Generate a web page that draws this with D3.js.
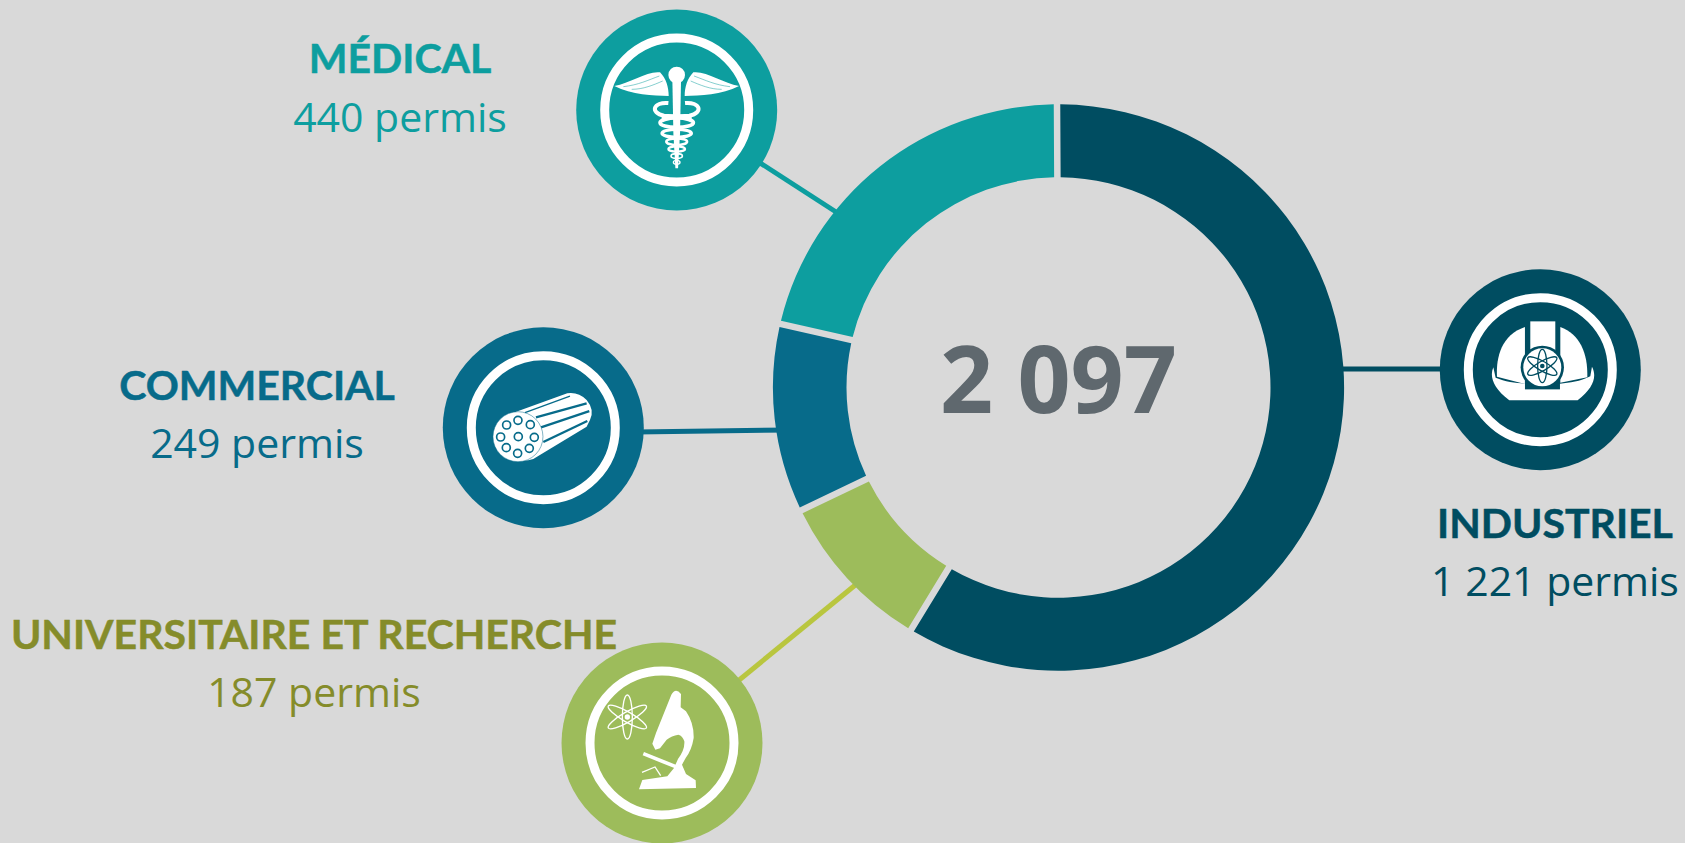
<!DOCTYPE html>
<html>
<head>
<meta charset="utf-8">
<script src="https://d3js.org/d3.v7.min.js"></script>
<style>
    html, body { margin: 0; padding: 0; background: #d9d9d9; }
    svg { display: block; }
    text { font-family: Lato, "Open Sans", sans-serif; }
</style>
</head>
<body>
<div id="chart"></div>
<script>
// values
var categories = ["INDUSTRIEL", "UNIVERSITAIRE ET RECHERCHE", "COMMERCIAL", "MÉDICAL"];
var permitLabels = ["1 221 permis", "187 permis", "249 permis", "440 permis"];
var totalLabel = "2 097";
// the ring in the picture is not quite proportional to the permits (1221, 187, 249, 440),
// so these are the spans measured off it, in degrees
var ringSpans = [211.4, 33.2, 38.7, 76.7];

// styles
var sliceColors = ["#004d61", "#9dbc5b", "#076b8a", "#0d9e9f"];
var lineColors = ["#004d61", "#b9c63f", "#076b8a", "#0d9e9f"];
var textColors = ["#004d61", "#858c2a", "#076b8a", "#0d9e9f"];

// layout of the badges, leaders and labels
var badges = [
    {x: 1540.3, y: 369.7, lineFrom: [1500, 369], lineTo: [1330, 369]},
    {x: 662, y: 743, lineFrom: [700, 712], lineTo: [870, 573]},
    {x: 543.3, y: 427.7, lineFrom: [600, 432.5], lineTo: [790, 430]},
    {x: 676.7, y: 110, lineFrom: [720, 137], lineTo: [850, 221]}
];
var labelPos = [
    {x: 1555, y1: 538, y2: 596},
    {x: 314, y1: 649, y2: 707},
    {x: 257, y1: 400, y2: 458},
    {x: 400, y1: 73, y2: 132}
];

var width = 1685, height = 843;
var cx = 1058.5, cy = 387.5;
var outerR = 285.6, innerR = 212;

var svg = d3.select("#chart")
    .append("svg")
        .attr("width", width)
        .attr("height", height);

// leaders go under the ring and the badges
svg.append("g").selectAll("line")
    .data(badges)
    .enter()
    .append("line")
        .attr("x1", function(d) { return d.lineFrom[0]; })
        .attr("y1", function(d) { return d.lineFrom[1]; })
        .attr("x2", function(d) { return d.lineTo[0]; })
        .attr("y2", function(d) { return d.lineTo[1]; })
        .attr("stroke", function(d, i) { return lineColors[i]; })
        .attr("stroke-width", 5);

var pie = d3.pie()
    .sort(null)
    .startAngle(-0.3 * Math.PI / 180)
    .endAngle(359.7 * Math.PI / 180);

var arc = d3.arc()
    .innerRadius(innerR)
    .outerRadius(outerR)
    .padRadius(outerR)
    .padAngle(6.5 / outerR);

svg.append("g")
    .attr("transform", "translate(" + cx + "," + cy + ") scale(1,0.9915)")
    .selectAll("path")
    .data(pie(ringSpans))
    .enter()
    .append("path")
        .attr("d", arc)
        .attr("fill", function(d, i) { return sliceColors[i]; });

svg.append("text")
    .attr("x", cx)
    .attr("y", 413)
    .attr("text-anchor", "middle")
    .style("font-family", "'Open Sans'")
    .attr("font-size", 93)
    .attr("font-weight", 700)
    .attr("fill", "#5f686e")
    .text(totalLabel);

var labels = svg.append("g").selectAll("g")
    .data(categories)
    .enter()
    .append("g")
        .attr("fill", function(d, i) { return textColors[i]; })
        .attr("text-anchor", "middle");

labels.append("text")
    .attr("x", function(d, i) { return labelPos[i].x; })
    .attr("y", function(d, i) { return labelPos[i].y1; })
    .attr("font-size", 41)
    .attr("font-weight", 700)
    .attr("stroke", function(d, i) { return textColors[i]; })
    .attr("stroke-width", 0.5)
    .text(function(d) { return d; });

labels.append("text")
    .attr("x", function(d, i) { return labelPos[i].x; })
    .attr("y", function(d, i) { return labelPos[i].y2; })
    .style("font-family", "'Open Sans'")
    .attr("font-size", 41)
    .text(function(d, i) { return permitLabels[i]; });

var badge = svg.append("g").selectAll("g")
    .data(badges)
    .enter()
    .append("g")
        .attr("transform", function(d) { return "translate(" + d.x + "," + d.y + ")"; });

badge.append("circle")
    .attr("r", 100.5)
    .attr("fill", function(d, i) { return sliceColors[i]; });

badge.append("circle")
    .attr("r", 72)
    .attr("fill", "none")
    .attr("stroke", "#fff")
    .attr("stroke-width", 9);

// icons are sketched in 3x pixels, around the badge centre
function atom(g, cx, cy, rx, ry, sw, dot, color) {
    [0, 60, -60].forEach(function(a) {
        g.append("ellipse")
            .attr("cx", cx).attr("cy", cy)
            .attr("rx", rx).attr("ry", ry)
            .attr("transform", "rotate(" + a + "," + cx + "," + cy + ")")
            .attr("fill", "none")
            .attr("stroke", color)
            .attr("stroke-width", sw);
    });
    g.append("circle").attr("cx", cx).attr("cy", cy).attr("r", dot).attr("fill", color);
}

function iconGroup(i, ox, oy) {
    return badge.filter(function(d, k) { return k === i; })
        .append("g")
        .attr("transform", "scale(" + (1 / 3) + ") translate(" + (-ox) + "," + (-oy) + ")");
}

// helmet
var hat = iconGroup(0, 331, 329);
var navy = sliceColors[0];
hat.append("path").attr("fill", "#fff")
    .attr("d", "M201 350 C198 290 215 225 285 201 L285 300 L285 372 Z");
hat.append("path").attr("fill", "#fff")
    .attr("d", "M391 201 C450 222 474 280 472 352 L391 368 Z");
hat.append("rect").attr("x", 301).attr("y", 184).attr("width", 75).attr("height", 90).attr("fill", "#fff");
hat.append("path").attr("fill", "#fff")
    .attr("d", "M190 322 C178 350 190 385 238 421 L443 421 C490 385 502 350 486 320 L481 349 C450 365 420 368 390 371 L285 371 C255 368 225 365 197 353 Z");
hat.append("rect").attr("x", 285).attr("y", 360).attr("width", 105).attr("height", 28).attr("fill", navy);
hat.append("circle").attr("cx", 337).attr("cy", 322).attr("r", 65).attr("fill", navy);
hat.append("circle").attr("cx", 337).attr("cy", 322).attr("r", 57).attr("fill", "#fff");
atom(hat, 337, 318, 14, 50, 4, 7, navy);

// microscope
var scope = iconGroup(1, 336, 340);
scope.append("path").attr("fill", "#fff")
    .attr("d", "M364 195 Q377 172 393 193 L392 233 L408 245 Q432 280 431 325 Q425 362 407 385 L396 405 L408 433 L437 452 L438 475 L267 479 L277 451 L352 440 L372 415 L384 388 Q405 360 403 335 Q398 318 385 315 Q365 318 350 330 L330 356 L316 360 L307 342 L318 310 Z");
scope.append("line").attr("x1", 280).attr("y1", 372).attr("x2", 392).attr("y2", 417)
    .attr("stroke", "#fff").attr("stroke-width", 11);
scope.append("path").attr("fill", "none").attr("stroke", "#fff").attr("stroke-width", 4)
    .attr("d", "M276 428 L315 412 L332 438");
atom(scope, 232, 262, 15, 66, 4, 8, "#fff");

// cable
var cable = iconGroup(2, 340, 353);
var blue = sliceColors[2];
cable.append("path").attr("fill", "#fff")
    .attr("d", "M240 312 L412 250 Q445 245 470 270 Q495 300 480 330 L470 350 L310 447 Q270 460 240 440 Z");
[[285, 308, 420, 258, 4], [318, 322, 470, 280, 7], [333, 352, 478, 303, 7], [340, 396, 472, 333, 7]].forEach(function(s) {
    cable.append("line").attr("x1", s[0]).attr("y1", s[1]).attr("x2", s[2]).attr("y2", s[3])
        .attr("stroke", blue).attr("stroke-width", s[4]);
});
cable.append("circle").attr("cx", 264).attr("cy", 380).attr("r", 75).attr("fill", "#fff")
    .attr("stroke", blue).attr("stroke-width", 1.5);
[[230, 345], [264, 331], [301, 344], [313, 382], [298, 415], [263, 430], [229, 413], [212, 381], [265, 380]].forEach(function(p) {
    cable.append("circle").attr("cx", p[0]).attr("cy", p[1]).attr("r", 12)
        .attr("fill", "#fff").attr("stroke", blue).attr("stroke-width", 5);
});

// caduceus
var cad = iconGroup(3, 350, 330);
var teal = sliceColors[3];
[1, -1].forEach(function(side) {
    var w = cad.append("g").attr("transform", "translate(350,0) scale(" + side + ",1) translate(-350,0)");
    w.append("path").attr("fill", "#fff")
        .attr("d", "M163 258 C210 250 262 212 300 217 C318 235 326 262 326 288 C280 287 215 285 163 258 Z");
    ["M190 260 C235 255 265 240 298 228", "M215 268 C250 268 280 255 308 243"].forEach(function(s) {
        w.append("path").attr("d", s).attr("fill", "none").attr("stroke", teal).attr("stroke-width", 1.5);
    });
});
cad.append("path").attr("fill", "#fff").attr("d", "M337 240 L363 240 L360 400 L354 505 L346 505 L340 400 Z");
cad.append("circle").attr("cx", 350).attr("cy", 225).attr("r", 25).attr("fill", "#fff");
cad.append("path").attr("fill", "none").attr("stroke", "#fff").attr("stroke-width", 12)
    .attr("d", "M325 309 C280 305 268 338 312 347 L395 352");
cad.append("path").attr("fill", "none").attr("stroke", "#fff").attr("stroke-width", 12)
    .attr("d", "M375 309 C420 305 432 338 388 347 L305 352");
[[368, 50, 14, 11], [400, 44, 12, 10], [425, 31, 10, 8], [447, 25, 8, 7], [468, 17, 7, 5], [487, 10, 6, 4]].forEach(function(s) {
    cad.append("ellipse").attr("cx", 350).attr("cy", s[0]).attr("rx", s[1]).attr("ry", s[2])
        .attr("fill", "none").attr("stroke", "#fff").attr("stroke-width", s[3]);
});
</script>
</body>
</html>
